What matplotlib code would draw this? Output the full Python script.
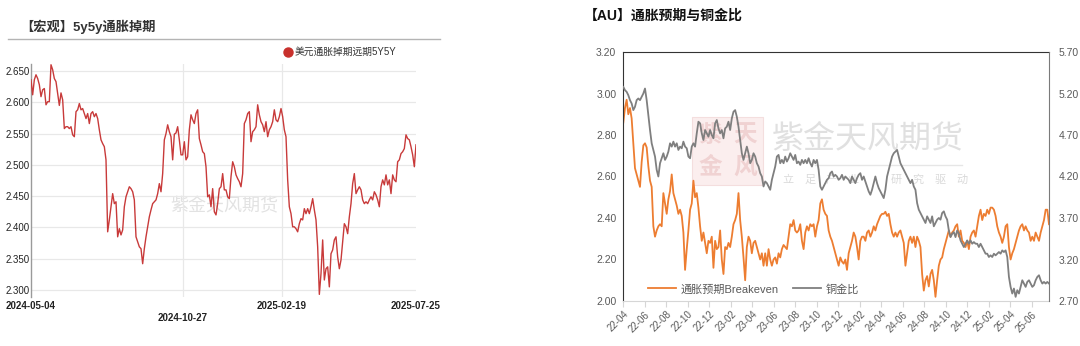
import matplotlib
matplotlib.use('Agg')
import matplotlib.pyplot as plt
from matplotlib.lines import Line2D
from matplotlib.patches import Rectangle
import pandas as pd

plt.rcParams['font.family'] = ['Liberation Sans', 'Noto Sans CJK SC', 'DejaVu Sans']

# ---------------- Left chart data: 5y5y inflation swap ----------------
swap_title = '【宏观】5y5y通胀掉期'
swap_label = '美元通胀掉期远期5Y5Y'
swap_start = '2024-05-04'
swap_end = '2025-07-25'
swap_xticks = ['2024-05-04', '2024-10-27', '2025-02-19', '2025-07-25']
swap_yticks = [2.30, 2.35, 2.40, 2.45, 2.50, 2.55, 2.60, 2.65]
swap_5y5y = [
    2.636, 2.612, 2.636, 2.644, 2.638, 2.628, 2.609, 2.620, 2.622, 2.596,
    2.601, 2.601, 2.660, 2.652, 2.638, 2.633, 2.614, 2.595, 2.615, 2.604,
    2.558, 2.561, 2.561, 2.558, 2.561, 2.548, 2.545, 2.585, 2.588, 2.598,
    2.588, 2.590, 2.582, 2.574, 2.582, 2.566, 2.582, 2.585, 2.577, 2.582,
    2.574, 2.556, 2.540, 2.534, 2.529, 2.508, 2.393, 2.412, 2.433, 2.454,
    2.438, 2.441, 2.385, 2.398, 2.388, 2.396, 2.433, 2.449, 2.457, 2.465,
    2.462, 2.457, 2.444, 2.385, 2.377, 2.369, 2.366, 2.342, 2.366, 2.385,
    2.401, 2.417, 2.428, 2.438, 2.441, 2.444, 2.454, 2.470, 2.457, 2.486,
    2.540, 2.550, 2.564, 2.553, 2.545, 2.508, 2.549, 2.551, 2.561, 2.540,
    2.516, 2.516, 2.537, 2.508, 2.513, 2.556, 2.580, 2.572, 2.566, 2.582,
    2.588, 2.542, 2.532, 2.521, 2.518, 2.497, 2.449, 2.452, 2.433, 2.462,
    2.425, 2.420, 2.438, 2.462, 2.465, 2.486, 2.460, 2.460, 2.449, 2.446,
    2.481, 2.505, 2.497, 2.484, 2.478, 2.473, 2.465, 2.486, 2.566, 2.572,
    2.582, 2.585, 2.537, 2.553, 2.556, 2.561, 2.596, 2.580, 2.569, 2.564,
    2.553, 2.569, 2.545, 2.556, 2.561, 2.569, 2.588, 2.572, 2.569, 2.577,
    2.590, 2.577, 2.556, 2.545, 2.476, 2.433, 2.422, 2.401,
    2.401, 2.398, 2.393, 2.406, 2.414, 2.412, 2.430, 2.422, 2.430, 2.422,
    2.433, 2.446, 2.428, 2.412, 2.369, 2.293, 2.326, 2.380, 2.316, 2.334,
    2.337, 2.305, 2.358, 2.364, 2.380, 2.385, 2.353, 2.334, 2.348, 2.377,
    2.406, 2.401, 2.390, 2.417, 2.438, 2.470, 2.486, 2.454, 2.460, 2.465,
    2.460, 2.444, 2.438, 2.441, 2.438, 2.444, 2.449, 2.444, 2.457, 2.452,
    2.444, 2.433, 2.465, 2.476, 2.468, 2.484, 2.468, 2.476, 2.454, 2.484,
    2.476, 2.473, 2.505, 2.508, 2.518, 2.521, 2.526, 2.548, 2.542, 2.540,
    2.529, 2.516, 2.497, 2.532,
]

# ---------------- Right chart data: breakeven vs copper/gold ----------------
ratio_title = '【AU】通胀预期与铜金比'
be_label = '通胀预期Breakeven'
cg_label = '铜金比'
ratio_start = '2022-04-01'
ratio_end = '2025-07-20'
ratio_tick_start = '2022-04-01'
ratio_tick_end = '2025-06-01'
be_yticks = [2.00, 2.20, 2.40, 2.60, 2.80, 3.00, 3.20]
cg_yticks = [2.70, 3.20, 3.70, 4.20, 4.70, 5.20, 5.70]
breakeven = [
    2.86, 2.93, 2.97, 2.90, 2.93, 2.88, 2.76, 2.64, 2.61, 2.58,
    2.55, 2.67, 2.75, 2.76, 2.74, 2.65, 2.58, 2.55, 2.36, 2.31,
    2.34, 2.36, 2.37, 2.36, 2.52, 2.47, 2.42, 2.49, 2.53, 2.61,
    2.52, 2.49, 2.46, 2.42, 2.44, 2.41, 2.33, 2.15, 2.25, 2.34,
    2.44, 2.47, 2.58, 2.50, 2.52, 2.45, 2.36, 2.29, 2.33, 2.28,
    2.23, 2.29, 2.28, 2.31, 2.16, 2.29, 2.25, 2.26, 2.34, 2.20,
    2.13, 2.26, 2.25, 2.28, 2.26, 2.31, 2.37, 2.39, 2.42, 2.52,
    2.39, 2.31, 2.21, 2.10, 2.26, 2.31, 2.29, 2.23, 2.28, 2.29,
    2.26, 2.23, 2.20, 2.23, 2.17,
    2.23, 2.17, 2.25, 2.20, 2.17, 2.20, 2.21, 2.18, 2.23, 2.21,
    2.25, 2.27, 2.26, 2.25, 2.31, 2.37, 2.36, 2.39, 2.34, 2.33,
    2.34, 2.37, 2.29, 2.25, 2.33, 2.36, 2.34, 2.37, 2.36, 2.37,
    2.31, 2.36, 2.39, 2.47, 2.49, 2.44, 2.42, 2.41, 2.34, 2.31,
    2.29, 2.26, 2.23, 2.20, 2.17, 2.21, 2.19, 2.18, 2.20, 2.15,
    2.23, 2.26, 2.29, 2.33, 2.31, 2.26, 2.20, 2.29, 2.31, 2.31,
    2.29, 2.33, 2.34, 2.31, 2.33, 2.36, 2.34, 2.37, 2.39, 2.41,
    2.42, 2.42, 2.43, 2.41, 2.42, 2.37, 2.33, 2.31, 2.33, 2.31,
    2.33, 2.34, 2.31, 2.28, 2.17,
    2.23, 2.29, 2.31, 2.28, 2.31, 2.26, 2.31, 2.29, 2.26, 2.13,
    2.05, 2.10, 2.12, 2.07, 2.13, 2.15, 2.10, 2.02, 2.10, 2.17,
    2.20, 2.21, 2.25, 2.28, 2.31, 2.34, 2.31, 2.33, 2.34, 2.36,
    2.37, 2.31, 2.34, 2.29, 2.28, 2.26, 2.29, 2.25, 2.31, 2.33,
    2.34, 2.31, 2.36, 2.41, 2.44, 2.39, 2.42, 2.41, 2.44, 2.42,
    2.45, 2.45, 2.44, 2.41, 2.36, 2.33, 2.31, 2.28, 2.31, 2.36,
    2.37, 2.26, 2.20, 2.23, 2.25, 2.28, 2.31, 2.34, 2.36, 2.37,
    2.34, 2.36, 2.34, 2.33, 2.29, 2.31, 2.29, 2.33, 2.31, 2.29,
    2.33, 2.36, 2.39, 2.44, 2.44, 2.37,
]
cu_au = [
    5.28, 5.24, 5.22, 5.18, 5.12, 5.08, 5.00, 5.04, 5.12, 5.14,
    5.12, 5.16, 5.20, 5.26, 5.12, 4.94, 4.76, 4.60, 4.52, 4.44,
    4.28, 4.20, 4.36, 4.42, 4.48, 4.40, 4.44, 4.50, 4.60, 4.56,
    4.62, 4.56, 4.60, 4.52, 4.56, 4.54, 4.62, 4.56, 4.54, 4.44,
    4.42, 4.56, 4.60, 4.56, 4.72, 4.86, 4.84, 4.72, 4.64, 4.76,
    4.72, 4.68, 4.76, 4.70, 4.66, 4.84, 4.88, 4.78, 4.72, 4.76,
    4.66, 4.78, 4.80, 4.86, 4.76, 4.90, 4.98, 5.00, 4.92, 4.80,
    4.64, 4.48, 4.40, 4.48, 4.56, 4.48, 4.36, 4.40, 4.48, 4.44,
    4.36, 4.32, 4.24, 4.20, 4.08,
    4.14, 4.12, 4.08, 4.04, 4.16, 4.24, 4.32, 4.44, 4.46, 4.36,
    4.40, 4.36, 4.44, 4.38, 4.42, 4.48, 4.44, 4.40, 4.46, 4.36,
    4.38, 4.34, 4.40, 4.36, 4.40, 4.36, 4.42, 4.36, 4.32, 4.40,
    4.36, 4.40, 4.28, 4.08, 4.04, 4.08, 4.12, 4.16, 4.18, 4.24,
    4.26, 4.20, 4.22, 4.20, 4.16, 4.18, 4.22, 4.16, 4.20, 4.18,
    4.16, 4.12, 4.20, 4.16, 4.12, 4.18, 4.22, 4.24, 4.16, 4.20,
    4.14, 4.08, 4.02, 3.98, 4.04, 4.12, 4.20, 4.12, 4.06, 4.02,
    3.98, 3.94, 4.04, 4.20, 4.28, 4.36, 4.44, 4.48, 4.50, 4.52,
    4.44, 4.36, 4.32, 4.28, 4.24,
    4.20, 4.16, 4.12, 4.16, 4.08, 4.04, 3.88, 3.80, 3.76, 3.72,
    3.68, 3.64, 3.72, 3.68, 3.64, 3.72, 3.60, 3.64, 3.68, 3.70,
    3.68, 3.76, 3.78, 3.72, 3.68, 3.55, 3.47, 3.51, 3.53, 3.47,
    3.55, 3.51, 3.43, 3.39, 3.35, 3.39, 3.43, 3.39, 3.43, 3.39,
    3.41, 3.39, 3.39, 3.35, 3.39, 3.35, 3.31, 3.27, 3.27, 3.23,
    3.25, 3.23, 3.27, 3.25, 3.27, 3.29, 3.27, 3.31, 3.29, 3.31,
    3.23, 2.99, 2.87, 2.79, 2.85, 2.75, 2.83, 2.79, 2.87, 2.95,
    2.91, 2.87, 2.93, 2.95, 2.91, 2.87, 2.89, 2.95, 2.99, 3.01,
    2.95, 2.91, 2.93, 2.91, 2.93, 2.91,
]

W, H = 1080, 346
fig = plt.figure(figsize=(W / 100, H / 100), dpi=100)

def fx(px):
    return px / W

def fy(py):
    return 1 - py / H

# ======================= Left chart =======================
fig.text(fx(20), fy(27), swap_title, fontsize=9.5, fontweight='bold',
         color='#333333', ha='left', va='center')
fig.add_artist(Line2D([fx(8), fx(440)], [fy(39), fy(39)], color='#b4b4b4', lw=1.0))

axL = fig.add_axes([fx(31), fy(297), fx(385), 233 / H])
axL.patch.set_alpha(0)
dates_L = pd.date_range(swap_start, swap_end, periods=len(swap_5y5y))
axL.plot(dates_L, swap_5y5y, color='#C83A3A', lw=1.0, zorder=3)
axL.set_xlim(pd.Timestamp(swap_start), pd.Timestamp(swap_end))
axL.set_ylim(2.2888, 2.6612)
axL.set_yticks(swap_yticks)
axL.set_yticklabels([f'{v:.3f}' for v in swap_yticks])
axL.set_xticks(pd.to_datetime(swap_xticks))
xl = [t if i != 1 else '\n' + t for i, t in enumerate(swap_xticks)]
axL.set_xticklabels(xl, fontweight='bold')
for s in ['top', 'right', 'bottom']:
    axL.spines[s].set_visible(False)
axL.spines['left'].set_color('#9a9a9a')
axL.spines['left'].set_linewidth(1.0)
axL.tick_params(axis='both', length=0, labelsize=7, colors='#222222')
axL.tick_params(axis='y', pad=1)
axL.tick_params(axis='x', pad=3)
axL.grid(True, color='#e8e8e8', lw=0.9, zorder=0)
xg = axL.get_xgridlines()
xg[0].set_visible(False)
xg[-1].set_visible(False)

red_handle = Line2D([], [], marker='o', ls='none', color='#C8302C', markersize=6.5)
axL.legend([red_handle], [swap_label], loc='center left',
           bbox_to_anchor=(fx(285), fy(52)), bbox_transform=fig.transFigure,
           frameon=False, fontsize=7, handlelength=0.7, handletextpad=0.25,
           borderpad=0, borderaxespad=0, labelcolor='#333333')

fig.text(fx(224), fy(207), '紫金天风期货', fontsize=13, color='#e2e2e2',
         ha='center', va='center', zorder=-1)

# ======================= Right chart =======================
fig.text(fx(584), fy(16), ratio_title, fontsize=10, fontweight='bold',
         color='#111111', ha='left', va='center')

# watermark (behind the lines)
fig.add_artist(Rectangle((fx(692), fy(185)), fx(71), 68 / H, facecolor='#fbeeee',
                         edgecolor='#f4dede', lw=0.8, zorder=-2))
for ch, (px, py) in zip('紫天金风', [(710, 135), (745, 135), (710, 167), (745, 167)]):
    fig.text(fx(px), fy(py), ch, fontsize=17, color='#f0d2d2', ha='center',
             va='center', fontweight='bold', zorder=-1)
fig.text(fx(868), fy(140), '紫金天风期货', fontsize=23, color='#e0e0e0',
         ha='center', va='center', zorder=-1)
fig.add_artist(Line2D([fx(815), fx(962)], [fy(165), fy(165)], color='#e6e6e6', lw=1.0, zorder=-1))
for i, ch in enumerate('立足产业 研究驱动'):
    fig.text(fx(788 + i * 21.7), fy(180), ch, fontsize=8, color='#dadada',
             ha='center', va='center', zorder=-1)

axR = fig.add_axes([fx(623.3), fy(301), fx(425.7), 249 / H])
axR.patch.set_alpha(0)
axR2 = axR.twinx()
axR2.patch.set_alpha(0)
dates_R = pd.date_range(ratio_start, ratio_end, periods=len(breakeven))
l1, = axR.plot(dates_R, breakeven, color='#ED7D31', lw=1.3, label=be_label)
l2, = axR2.plot(dates_R, cu_au, color='#7F7F7F', lw=1.3, label=cg_label)
axR.set_xlim(pd.Timestamp(ratio_start), pd.Timestamp(ratio_end))
axR.set_ylim(be_yticks[0], be_yticks[-1])
axR2.set_ylim(cg_yticks[0], cg_yticks[-1])
axR.set_yticks(be_yticks)
axR.set_yticklabels([f'{v:.2f}' for v in be_yticks])
axR2.set_yticks(cg_yticks)
axR2.set_yticklabels([f'{v:.2f}' for v in cg_yticks])
xt = pd.date_range(ratio_tick_start, ratio_tick_end, freq='2MS')
axR.set_xticks(xt)
axR.set_xticklabels([d.strftime('%y-%m') for d in xt], rotation=45,
                    ha='right', va='top', rotation_mode='anchor')

axR.spines['left'].set_color('#333333')
axR.spines['top'].set_color('#333333')
axR.spines['right'].set_visible(False)
axR.spines['bottom'].set_color('#d6d6d6')
for s in ['left', 'top', 'bottom']:
    axR2.spines[s].set_visible(False)
axR2.spines['right'].set_color('#7a7a7a')
axR.tick_params(axis='y', length=0, labelsize=7.5, colors='#595959', pad=5)
axR2.tick_params(axis='y', length=0, labelsize=7.5, colors='#595959', pad=7)
axR.tick_params(axis='x', length=4, color='#d6d6d6', labelsize=7,
                labelcolor='#595959', pad=2)

axR2.legend([l1, l2], [be_label, cg_label], loc='center left',
            bbox_to_anchor=(0.058, 0.048), ncol=2, frameon=False, fontsize=8,
            handlelength=2.5, handletextpad=0.45, columnspacing=1.3,
            borderpad=0, borderaxespad=0, labelcolor='#595959')

fig.savefig('out.png', dpi=100)
